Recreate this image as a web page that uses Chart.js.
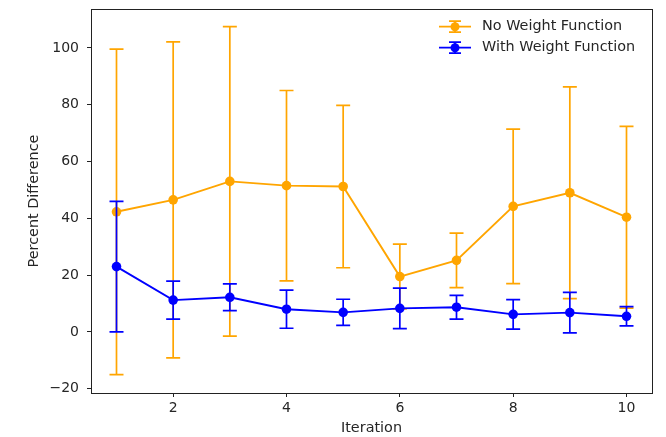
<!DOCTYPE html>
<html>
<head>
<meta charset="utf-8">
<script src="https://cdn.jsdelivr.net/npm/chart.js@4/dist/chart.umd.min.js"></script>
<style>
  html, body { margin: 0; padding: 0; background: #fff; }
  #wrap { width: 666px; height: 437px; }
</style>
</head>
<body>
<div id="wrap"><canvas id="myChart" width="666" height="437"></canvas></div>
<script>
// data
const iterations = [1, 2, 3, 4, 5, 6, 7, 8, 9, 10];
const noWeightMean = [42.3, 46.5, 53.0, 51.5, 51.2, 19.5, 25.2, 44.2, 49.0, 40.4];
const noWeightErr = [57.3, 55.6, 54.5, 33.5, 28.6, 11.4, 9.6, 27.2, 37.3, 32.0];
const withWeightMean = [23.0, 11.2, 12.2, 8.0, 6.9, 8.3, 8.7, 6.2, 6.8, 5.5];
const withWeightErr = [23.0, 6.7, 4.7, 6.7, 4.6, 7.1, 4.2, 5.2, 7.1, 3.4];
const xTicks = [2, 4, 6, 8, 10];
const yTicks = [-20, 0, 20, 40, 60, 80, 100];
const seriesNames = ["No Weight Function", "With Weight Function"];

const FONT = "DejaVu Sans";
const TEXT = "#262626";

const toPoints = (ys) => iterations.map((x, i) => ({ x: x, y: ys[i] }));

// draws the error bars of one dataset just before the dataset itself
const errorBars = {
  id: "errorBars",
  beforeDatasetDraw(chart, args) {
    const ds = chart.data.datasets[args.index];
    const xs = chart.scales.x, ys = chart.scales.y;
    const ctx = chart.ctx;
    ctx.save();
    ctx.strokeStyle = ds.borderColor;
    ctx.lineWidth = 1.7;
    ds.data.forEach((p, i) => {
      const px = xs.getPixelForValue(p.x);
      const top = ys.getPixelForValue(p.y + ds.errors[i]);
      const bot = ys.getPixelForValue(p.y - ds.errors[i]);
      ctx.beginPath();
      ctx.moveTo(px, top); ctx.lineTo(px, bot);
      ctx.moveTo(px - 7, top); ctx.lineTo(px + 7, top);
      ctx.moveTo(px - 7, bot); ctx.lineTo(px + 7, bot);
      ctx.stroke();
    });
    ctx.restore();
  },
  afterDraw(chart) {
    const ctx = chart.ctx;
    const a = chart.chartArea;
    ctx.save();
    // axes box
    ctx.strokeStyle = "#222";
    ctx.lineWidth = 1;
    ctx.strokeRect(Math.round(a.left) + 0.5, Math.round(a.top) + 0.5,
      Math.round(a.right - a.left), Math.round(a.bottom - a.top));
    // legend
    chart.data.datasets.slice().sort((d1, d2) => d1.legendRow - d2.legendRow).forEach((ds, k) => {
      const y = 26.7 + k * 21;
      const cx = 455;
      ctx.strokeStyle = ds.borderColor;
      ctx.fillStyle = ds.borderColor;
      ctx.lineWidth = 1.8;
      ctx.beginPath();
      ctx.moveTo(439, y); ctx.lineTo(471, y);
      ctx.moveTo(cx, y - 5.5); ctx.lineTo(cx, y + 5.5);
      ctx.moveTo(cx - 6, y - 5.5); ctx.lineTo(cx + 6, y - 5.5);
      ctx.moveTo(cx - 6, y + 5.5); ctx.lineTo(cx + 6, y + 5.5);
      ctx.stroke();
      ctx.beginPath();
      ctx.arc(cx, y, 4.5, 0, Math.PI * 2);
      ctx.fill();
      ctx.fillStyle = TEXT;
      ctx.font = "14.4px '" + FONT + "'";
      ctx.textBaseline = "middle";
      ctx.textAlign = "left";
      ctx.fillText(ds.label, 482, y);
    });
    ctx.restore();
  }
};

let grafico = document.getElementById("myChart").getContext("2d");

let myChart = new Chart(grafico, {
  type: "line",
  data: {
    datasets: [
      {
        label: seriesNames[0],
        data: toPoints(noWeightMean),
        errors: noWeightErr,
        legendRow: 0,
        order: 2,
        borderColor: "#FFA500",
        backgroundColor: "#FFA500",
        borderWidth: 1.9,
        pointRadius: 4.8,
        pointBorderWidth: 0,
        tension: 0
      },
      {
        label: seriesNames[1],
        data: toPoints(withWeightMean),
        errors: withWeightErr,
        legendRow: 1,
        order: 1,
        borderColor: "#0000FF",
        backgroundColor: "#0000FF",
        borderWidth: 1.9,
        pointRadius: 4.8,
        pointBorderWidth: 0,
        tension: 0
      }
    ]
  },
  options: {
    responsive: false,
    animation: false,
    layout: { padding: { top: 9, right: 14, left: 0, bottom: 0 } },
    plugins: {
      legend: { display: false },
      tooltip: { enabled: false }
    },
    scales: {
      x: {
        type: "linear",
        min: 0.55,
        max: 10.45,
        afterBuildTicks: (s) => { s.ticks = xTicks.map(v => ({ value: v })); },
        afterFit: (s) => { s.height = 44; s.paddingLeft = 0; s.paddingRight = 0; },
        grid: { drawOnChartArea: false, drawTicks: true, tickLength: 4, color: "#222" },
        border: { display: false },
        ticks: { color: TEXT, font: { family: FONT, size: 14 }, padding: 3, maxRotation: 0 },
        title: { display: true, text: "Iteration", color: TEXT, font: { family: FONT, size: 14.4 }, padding: { top: 0, bottom: 0 } }
      },
      y: {
        min: -21.5,
        max: 113.7,
        afterBuildTicks: (s) => { s.ticks = yTicks.map(v => ({ value: v })); },
        afterFit: (s) => { s.width = 91; s.paddingTop = 0; s.paddingBottom = 0; },
        grid: { drawOnChartArea: false, drawTicks: true, tickLength: 4, color: "#222" },
        border: { display: false },
        ticks: {
          color: TEXT, font: { family: FONT, size: 14 }, padding: 8,
          callback: (v) => String(v).replace("-", "\u2212")
        },
        title: { display: true, text: "Percent Difference", color: TEXT, font: { family: FONT, size: 14.4 }, padding: { top: 26, bottom: 0 } }
      }
    }
  },
  plugins: [errorBars]
});
</script>
</body>
</html>
